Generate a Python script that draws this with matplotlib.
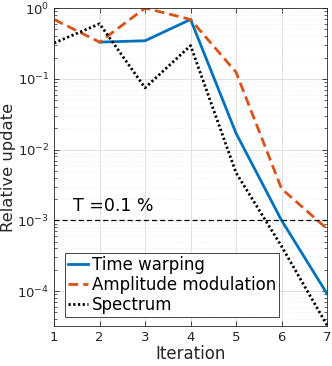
import numpy as np
import matplotlib
matplotlib.use("Agg")
import matplotlib.pyplot as plt
from matplotlib.ticker import LogLocator, NullFormatter

# valori
iter_tw = [2, 3, 4, 5, 6, 7]
time_warping = [0.33, 0.345, 0.69, 0.017, 0.001, 9.2e-5]

iterations = [1, 2, 3, 4, 5, 6, 7]
amplitude_mod = [0.69, 0.33, 1.0, 0.69, 0.124, 0.0028, 7.6e-4]
spectrum = [0.32, 0.60, 0.0745, 0.295, 0.0047, 4.3e-4, 3.3e-5]

threshold = 1e-3

plt.rcParams['font.family'] = ['DejaVu Sans']
dark = '#262626'

fig = plt.figure(figsize=(3.32, 3.66), dpi=100)
ax = fig.add_axes([0.163, 0.109, 0.822, 0.869])

ax.plot(iter_tw, time_warping, color='#0072BD', lw=2, label='Time warping')
ax.plot(iterations, amplitude_mod, color='#D95319', lw=2, ls=(0, (3.5, 1.8)),
        label='Amplitude modulation')
ax.plot(iterations, spectrum, color='black', lw=2, ls=(0, (0.8, 0.9)),
        label='Spectrum')

# soglia
ax.axhline(threshold, color='black', lw=0.9, ls=(0, (4, 2.5)))
ax.text(2.3, 1.2e-3, 'T =0.1 %', ha='center', va='bottom', fontsize=12.5, color='black')

ax.set_yscale('log')
ax.set_xlim(1, 7)
ax.set_ylim(3.2e-5, 1)
ax.set_xticks(iterations)
ax.yaxis.set_major_locator(LogLocator(base=10, numticks=10))
ax.yaxis.set_minor_locator(LogLocator(base=10, subs=np.arange(2, 10), numticks=20))
ax.yaxis.set_minor_formatter(NullFormatter())

ax.grid(True, which='major', color='#dcdcdc', lw=0.6)
ax.grid(True, which='minor', axis='y', color='#e8e8e8', lw=0.5, ls=(0, (1, 1.5)))
ax.set_axisbelow(True)

ax.tick_params(which='both', direction='in', top=True, right=True, colors=dark,
               labelsize=9.5)
ax.tick_params(which='major', length=3.5, width=0.6)
ax.tick_params(which='minor', length=2, width=0.5)
for s in ax.spines.values():
    s.set_color(dark)
    s.set_linewidth(0.6)

ax.set_xlabel('Iteration', fontsize=12, color=dark, labelpad=1)
ax.set_ylabel('Relative update', fontsize=11.8, color=dark, labelpad=1)

leg = ax.legend(loc='lower left', bbox_to_anchor=(0.04, 0.028), fontsize=12,
                handlelength=1.2, handletextpad=0.2, borderpad=0.2,
                labelspacing=0.12, fancybox=False, framealpha=1, borderaxespad=0)
leg.get_frame().set_edgecolor(dark)
leg.get_frame().set_linewidth(0.6)

plt.savefig('out.png', dpi=100)
